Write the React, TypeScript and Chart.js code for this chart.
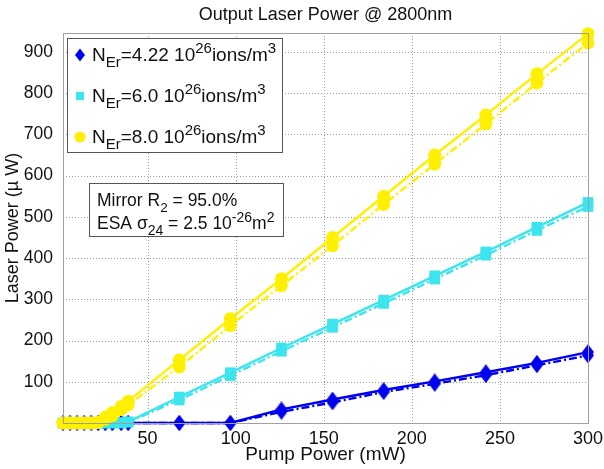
import React, { useEffect, useRef } from 'react';
import { Chart, registerables } from 'chart.js';

Chart.register(...registerables);

// ---- data ----
const pump = [2, 6, 10, 14, 18, 22, 26, 30, 35, 39, 68, 97, 126, 155, 184, 213, 242, 271, 300];
const yellowSolid = [0, 0, 0, 0, 0, 2, 14, 25, 40, 53, 153, 253, 350, 450, 550, 650, 747, 847, 944];
const yellowDash = [0, 0, 0, 0, 0, 1, 9, 18, 33, 44, 136, 236, 333, 430, 530, 628, 725, 825, 922];
const cyanSolid = [0, 0, 0, 0, 0, 0, 0, 0, 1, 3, 63, 122, 182, 240, 298, 357, 415, 475, 535];
const cyanDash = [0, 0, 0, 0, 0, 0, 0, 0, 0, 2, 56, 115, 174, 232, 290, 349, 407, 467, 525];
const blueSolid = [0, 0, 0, 0, 0, 0, 0, 0, 0, 0, 0, 0, 33, 57, 80, 101, 123, 146, 172];
const blueDash = [0, 0, 0, 0, 0, 0, 0, 0, 0, 0, 0, 0, 27, 50, 75, 95, 116, 140, 164];

const xTicks = [50, 100, 150, 200, 250, 300];
const yTicks = [100, 200, 300, 400, 500, 600, 700, 800, 900];

const titleText = 'Output Laser Power @ 2800nm';
const xTitle = 'Pump Power (mW)';
const yTitle = 'Laser Power (\u00b5 W)';

type Seg = { t: string; m?: 'sub' | 'sup' };
const legendEntries: { color: string; shape: string; segs: Seg[] }[] = [
  { color: '#0000f0', shape: 'diamond', segs: [{ t: 'N' }, { t: 'Er', m: 'sub' }, { t: '=4.22 10' }, { t: '26', m: 'sup' }, { t: 'ions/m' }, { t: '3', m: 'sup' }] },
  { color: '#3ce4ee', shape: 'square', segs: [{ t: 'N' }, { t: 'Er', m: 'sub' }, { t: '=6.0 10' }, { t: '26', m: 'sup' }, { t: 'ions/m' }, { t: '3', m: 'sup' }] },
  { color: '#fff000', shape: 'circle', segs: [{ t: 'N' }, { t: 'Er', m: 'sub' }, { t: '=8.0 10' }, { t: '26', m: 'sup' }, { t: 'ions/m' }, { t: '3', m: 'sup' }] },
];
const noteLines: Seg[][] = [
  [{ t: 'Mirror R' }, { t: '2', m: 'sub' }, { t: ' = 95.0%' }],
  [{ t: 'ESA \u03c3' }, { t: '24', m: 'sub' }, { t: ' = 2.5 10' }, { t: '-26', m: 'sup' }, { t: 'm' }, { t: '2', m: 'sup' }],
];

const FONT = '"Liberation Sans", Arial, Helvetica, sans-serif';
const BLUE = '#0000f0';
const CYAN = '#3ce4ee';
const YELLOW = '#fff000';

function makeDiamond(color: string, w: number, h: number) {
  const c = document.createElement('canvas');
  c.width = w;
  c.height = h;
  const g = c.getContext('2d')!;
  g.fillStyle = color;
  g.beginPath();
  g.moveTo(w / 2, 0);
  g.lineTo(w, h / 2);
  g.lineTo(w / 2, h);
  g.lineTo(0, h / 2);
  g.closePath();
  g.fill();
  return c;
}

function drawRich(ctx: CanvasRenderingContext2D, segs: Seg[], x: number, baseline: number, size: number, small: number) {
  let cx = x;
  for (const s of segs) {
    const sz = s.m ? small : size;
    ctx.font = `${sz}px ${FONT}`;
    let dy = 0;
    if (s.m === 'sub') dy = size * 0.33;
    if (s.m === 'sup') dy = -size * 0.42;
    ctx.fillText(s.t, cx, baseline + dy);
    cx += ctx.measureText(s.t).width;
  }
  return cx;
}

const gridPlugin = {
  id: 'dottedGrid',
  beforeDatasetsDraw(chart: any) {
    const ctx: CanvasRenderingContext2D = chart.ctx;
    const a = chart.chartArea;
    const xs = chart.scales.x;
    const ys = chart.scales.y;
    ctx.save();
    ctx.strokeStyle = '#9a9a9a';
    ctx.lineWidth = 1;
    ctx.setLineDash([1, 2]);
    xTicks.forEach((v) => {
      const px = Math.round(xs.getPixelForValue(v)) + 0.5;
      ctx.beginPath();
      ctx.moveTo(px, a.top);
      ctx.lineTo(px, a.bottom);
      ctx.stroke();
    });
    yTicks.forEach((v) => {
      const py = Math.round(ys.getPixelForValue(v)) + 0.5;
      ctx.beginPath();
      ctx.moveTo(a.left, py);
      ctx.lineTo(a.right, py);
      ctx.stroke();
    });
    ctx.restore();
  },
};

const decorPlugin = {
  id: 'decor',
  afterDraw(chart: any) {
    const ctx: CanvasRenderingContext2D = chart.ctx;
    const a = chart.chartArea;
    ctx.save();
    // plot box
    ctx.strokeStyle = '#a0a0a0';
    ctx.lineWidth = 1;
    ctx.strokeRect(Math.round(a.left) + 0.5, Math.round(a.top) + 0.5, Math.round(a.right - a.left), Math.round(a.bottom - a.top));

    ctx.fillStyle = '#111';
    ctx.textBaseline = 'middle';
    // title
    ctx.textAlign = 'center';
    ctx.font = `18px ${FONT}`;
    ctx.fillText(titleText, (a.left + a.right) / 2, 15);
    // x title
    ctx.font = `19px ${FONT}`;
    ctx.fillText(xTitle, (a.left + a.right) / 2, 455);
    // y title
    ctx.save();
    ctx.translate(13, (a.top + a.bottom) / 2);
    ctx.rotate(-Math.PI / 2);
    ctx.font = `18px ${FONT}`;
    ctx.fillText(yTitle, 0, 0);
    ctx.restore();

    // legend box
    ctx.fillStyle = '#ffffff';
    ctx.fillRect(67, 38, 215, 114);
    ctx.strokeStyle = '#555';
    ctx.strokeRect(67.5, 38.5, 215, 114);
    const rowY = [55, 96, 137];
    legendEntries.forEach((e, i) => {
      const y = rowY[i];
      const mx = 80;
      ctx.fillStyle = e.color;
      ctx.beginPath();
      if (e.shape === 'diamond') {
        ctx.moveTo(mx, y - 6.5);
        ctx.lineTo(mx + 5, y);
        ctx.lineTo(mx, y + 6.5);
        ctx.lineTo(mx - 5, y);
        ctx.closePath();
      } else if (e.shape === 'square') {
        ctx.rect(mx - 4, y - 4, 8, 8);
      } else {
        ctx.arc(mx, y, 5.5, 0, Math.PI * 2);
      }
      ctx.fill();
      ctx.fillStyle = '#111';
      ctx.textAlign = 'left';
      ctx.textBaseline = 'alphabetic';
      drawRich(ctx, e.segs, 92, y + 6, 19, 15);
    });

    // note box
    ctx.fillStyle = '#ffffff';
    ctx.fillRect(89, 183, 194, 53);
    ctx.strokeStyle = '#555';
    ctx.strokeRect(89.5, 183.5, 194, 53);
    ctx.fillStyle = '#111';
    drawRich(ctx, noteLines[0], 97, 206, 17.5, 13.5);
    drawRich(ctx, noteLines[1], 97, 229, 17.5, 14);
    ctx.restore();
  },
};

export default function App() {
  const ref = useRef<HTMLCanvasElement>(null);
  useEffect(() => {
    const diamond = makeDiamond(BLUE, 12, 16);
    const common = { borderWidth: 2.4, clip: false as any, pointBorderWidth: 0 };
    const chart = new Chart(ref.current!, {
      type: 'line',
      data: {
        labels: pump,
        datasets: [
          { ...common, data: pump.map((x, i) => ({ x, y: yellowSolid[i] })), borderColor: YELLOW, backgroundColor: YELLOW, pointStyle: 'circle', pointRadius: 6.5 },
          { ...common, data: pump.map((x, i) => ({ x, y: yellowDash[i] })), borderColor: YELLOW, backgroundColor: YELLOW, pointStyle: 'circle', pointRadius: 6.5, borderDash: [8, 3, 2, 3] },
          { ...common, data: pump.map((x, i) => ({ x, y: cyanSolid[i] })), borderColor: CYAN, backgroundColor: CYAN, pointStyle: 'rect', pointRadius: 7.5 },
          { ...common, data: pump.map((x, i) => ({ x, y: cyanDash[i] })), borderColor: CYAN, backgroundColor: CYAN, pointStyle: 'rect', pointRadius: 7.5, borderDash: [8, 3, 2, 3] },
          { ...common, data: pump.map((x, i) => ({ x, y: blueSolid[i] })), borderColor: BLUE, backgroundColor: BLUE, pointStyle: diamond as any, pointRadius: 7 },
          { ...common, data: pump.map((x, i) => ({ x, y: blueDash[i] })), borderColor: BLUE, backgroundColor: BLUE, pointStyle: diamond as any, pointRadius: 7, borderDash: [8, 3, 2, 3] },
        ],
      },
      options: {
        animation: false,
        responsive: true,
        maintainAspectRatio: false,
        layout: { padding: { left: 8, right: 16, top: 33, bottom: 0 } },
        plugins: { legend: { display: false }, tooltip: { enabled: false }, title: { display: false } },
        scales: {
          x: {
            type: 'linear',
            min: 2,
            max: 300,
            afterBuildTicks: (s: any) => { s.ticks = xTicks.map((v) => ({ value: v })); },
            afterFit: (s: any) => { s.height = 46; },
            ticks: { color: '#111', font: { size: 18, family: FONT }, padding: -3, maxRotation: 0, autoSkip: false },
            grid: { display: false },
            border: { display: false },
          },
          y: {
            type: 'linear',
            min: 0,
            max: 946,
            afterBuildTicks: (s: any) => { s.ticks = yTicks.map((v) => ({ value: v })); },
            afterFit: (s: any) => { s.width = 55; },
            ticks: { color: '#111', font: { size: 17.5, family: FONT }, padding: 2, autoSkip: false },
            grid: { display: false },
            border: { display: false },
          },
        },
      },
      plugins: [gridPlugin, decorPlugin],
    });
    return () => chart.destroy();
  }, []);
  return (
    <div style={{ position: 'absolute', left: 0, top: 0, width: 604, height: 469, background: '#fff' }}>
      <canvas ref={ref} />
    </div>
  );
}
